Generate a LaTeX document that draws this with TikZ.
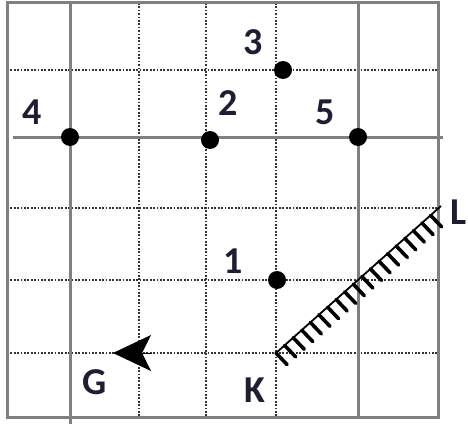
\documentclass[tikz,border=0pt]{standalone}
\usepackage{fontspec}
\setmainfont{Carlito}
\usetikzlibrary{arrows.meta,positioning,decorations.pathreplacing}
\definecolor{inkdark}{RGB}{30,30,48}

\begin{document}
\begin{tikzpicture}[x=1pt,y=-1pt,
	grid line/.style={draw=gray,line width=3pt},
	dot line/.style={draw=black!80,line width=2.2pt,dash pattern=on 1.7pt off 1.7pt},
	main dot/.style={circle,fill=black,inner sep=0pt,minimum size=18pt},
	mark text/.style={font=\fontsize{38}{38}\selectfont\bfseries,text=inkdark,inner sep=0pt}]
	\useasboundingbox (0,0) rectangle (468,428);

	% dotted grid
	\foreach \x in {139,206,276}
		\draw[dot line] (\x,3) -- (\x,417);
	\foreach \y in {70,208,280,353}
		\draw[dot line] (7,\y) -- (438,\y);
	% solid grid
	\draw[grid line] (70,3) -- (70,424);
	\draw[grid line] (358,3) -- (358,417);
	\draw[grid line] (13,137) -- (443,137);
	\draw[grid line] (7,3) rectangle (438,417);

	% points
	\node[main dot] (p1) at (277,280) {};
	\node[main dot] (p2) at (210,140) {};
	\node[main dot] (p3) at (283,70) {};
	\node[main dot] (p4) at (70,137) {};
	\node[main dot] (p5) at (358,137) {};
	\node[mark text] (t1) at (233,261) {1};
	\node[mark text] (t2) at (228,103) {2};
	\node[mark text] (t3) at (253,42) {3};
	\node[mark text] (t4) at (32,112) {4};
	\node[mark text] (t5) at (325,112) {5};

	% wall K--L
	\coordinate (K) at (276,353);
	\coordinate (L) at (441,206);
	\draw[line width=1.8pt] (K) -- (L);
	\draw[line width=3.6pt,line cap=round,decorate,
		decoration={border,segment length=11.5pt,amplitude=16pt,angle=-88}] (K) -- (L);
	\node[mark text] (tK) at (255,390) {K};
	\node[mark text] (tL) at (459,212) {L};

	% direction G
	\coordinate (gtail) at (151,353);
	\coordinate (gtip) at (113,353);
	\draw[-{Stealth[length=38pt,width=36pt,inset=9pt]},line width=1pt] (gtail) -- (gtip);
	\node[mark text] (tG) at (95,382) {G};
\end{tikzpicture}
\end{document}
